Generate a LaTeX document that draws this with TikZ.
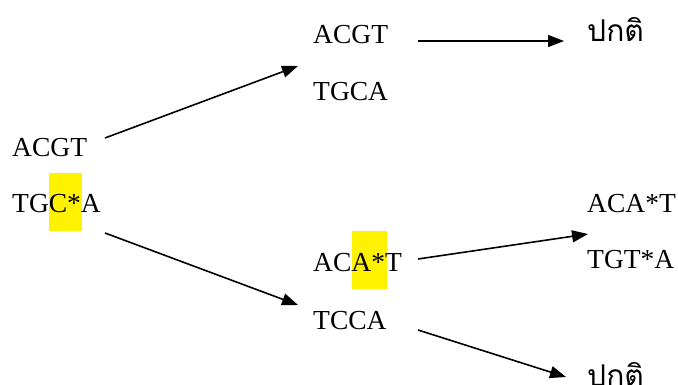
\documentclass[tikz,border=0pt]{standalone}
\usepackage{fontspec}
\setmainfont{Liberation Serif}
\newfontfamily\thaifont[Script=Thai]{Loma}
\usetikzlibrary{arrows.meta}
\begin{document}
\begin{tikzpicture}[x=1pt,y=-1pt,
  seq/.style={anchor=base west,inner sep=0pt,font=\fontsize{27.5}{30}\selectfont},
  thai/.style={anchor=base west,inner sep=0pt,font=\thaifont\fontsize{30}{34}\selectfont},
  arr/.style={-{Triangle[length=16pt,width=12pt]},line width=1.6pt}]
\useasboundingbox (0,0) rectangle (678,385);
% highlights
\fill[yellow] (49,173) rectangle (82,231);
\fill[yellow] (352,231) rectangle (387,289);
% sequences
\node[seq] (l1) at (12,157) {ACGT};
\node[seq] (l2) at (12,213) {TGC*A};
\node[seq] (t1) at (313,44) {ACGT};
\node[seq] (t2) at (313,101) {TGCA};
\node[seq] (m1) at (313,271) {ACA*T};
\node[seq] (m2) at (313,329) {TCCA};
\node[seq] (r1) at (587,213) {ACA*T};
\node[seq] (r2) at (587,269) {TGT*A};
\node[thai] (n1) at (587,42) {ปกติ};
\node[thai] (n2) at (587,386) {ปกติ};
% arrow endpoints
\coordinate (a1s) at (105,138); \coordinate (a1e) at (298,66);
\coordinate (a2s) at (105,233); \coordinate (a2e) at (298,305);
\coordinate (a3s) at (418,41);  \coordinate (a3e) at (564,41);
\coordinate (a4s) at (418,259); \coordinate (a4e) at (588,234);
\coordinate (a5s) at (418,330); \coordinate (a5e) at (566,377);
\draw[arr] (a1s) -- (a1e);
\draw[arr] (a2s) -- (a2e);
\draw[arr] (a3s) -- (a3e);
\draw[arr] (a4s) -- (a4e);
\draw[arr] (a5s) -- (a5e);
\end{tikzpicture}
\end{document}
